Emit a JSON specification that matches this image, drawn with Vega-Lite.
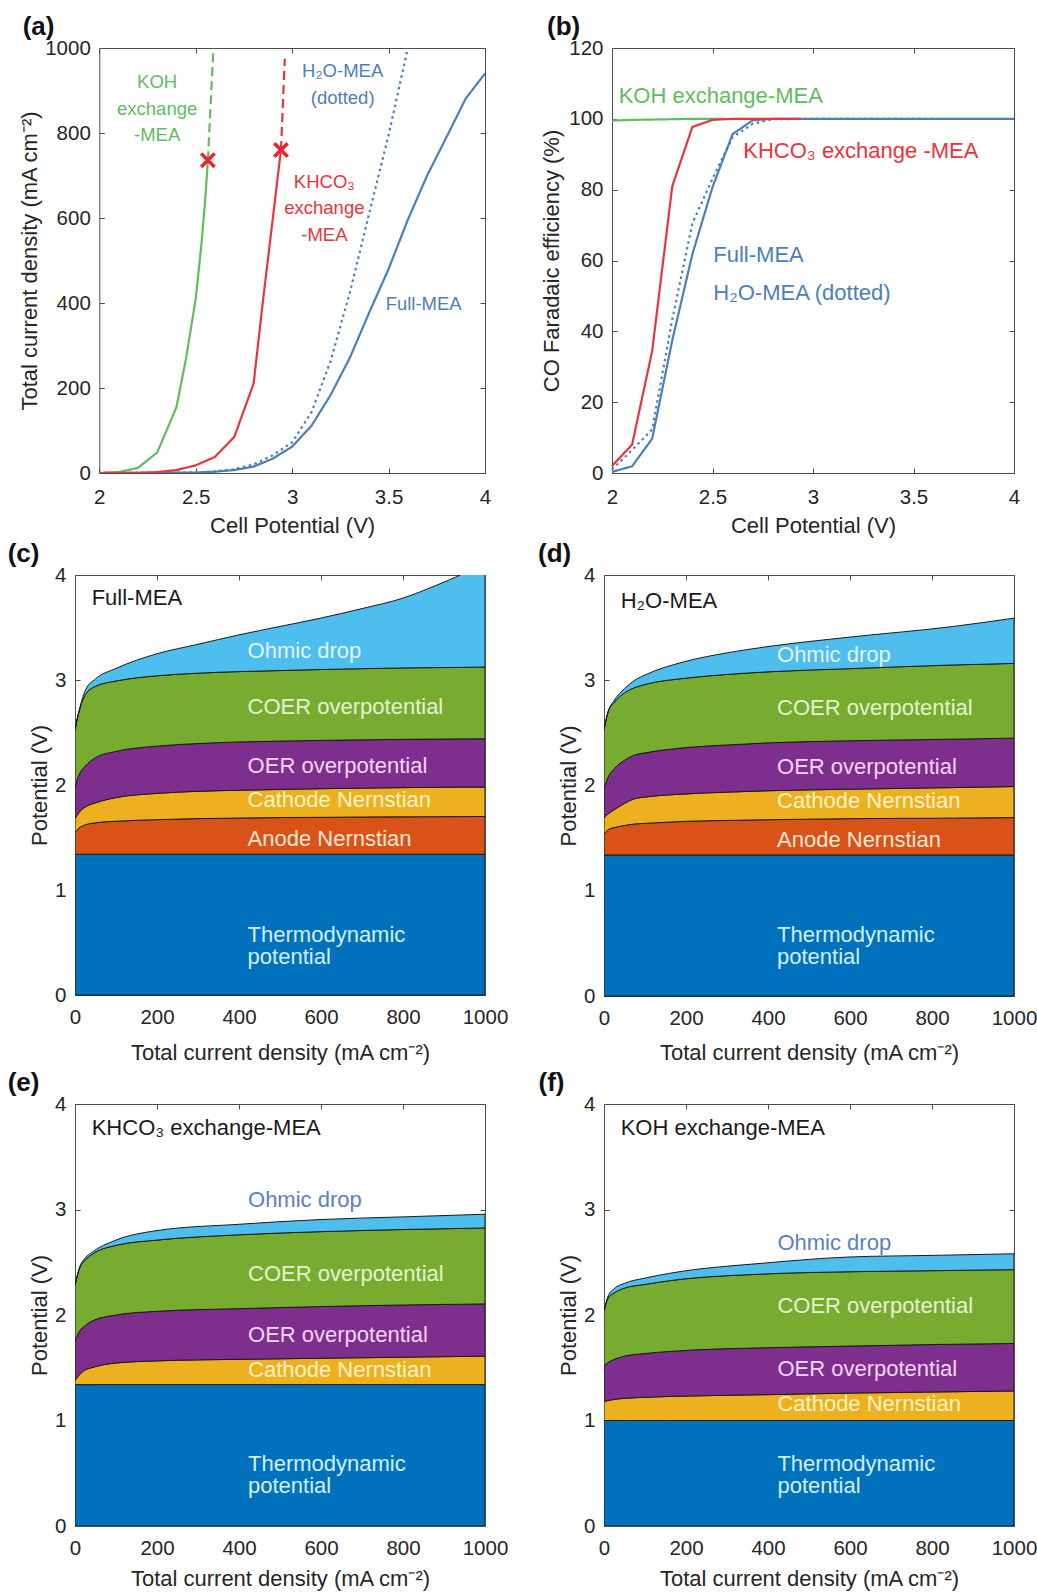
{
  "$schema": "https://vega.github.io/schema/vega-lite/v6.json",
  "background": "white",
  "padding": {"left": 7, "top": 14, "right": 4, "bottom": 4},
  "config": {
    "font": "Liberation Sans",
    "view": {"stroke": null},
    "axis": {
      "domainColor": "#4d4d4d", "domainWidth": 1, "tickColor": "#4d4d4d", "tickWidth": 1, "tickSize": -5,
      "grid": false, "labelFont": "Liberation Sans", "labelFontSize": 20.5, "labelColor": "#262626",
      "titleFont": "Liberation Sans", "titleFontSize": 22, "titleFontWeight": "normal", "titleColor": "#262626",
      "labelFlush": false, "labelOverlap": false, "zindex": 1
    },
    "title": {"fontSize": 26, "fontWeight": "bold", "anchor": "start", "frame": "group", "color": "#111111", "baseline": "alphabetic", "offset": -2, "font": "Liberation Sans"},
    "text": {"font": "Liberation Sans"}
  },
  "datasets": {
    "curveA": [
      {"s": "Full", "v": 2.0, "j": 0}, {"s": "Full", "v": 2.5, "j": 1}, {"s": "Full", "v": 2.6, "j": 3}, {"s": "Full", "v": 2.7, "j": 7},
      {"s": "Full", "v": 2.8, "j": 15}, {"s": "Full", "v": 2.9, "j": 34}, {"s": "Full", "v": 3.0, "j": 62}, {"s": "Full", "v": 3.1, "j": 111},
      {"s": "Full", "v": 3.2, "j": 184}, {"s": "Full", "v": 3.3, "j": 272}, {"s": "Full", "v": 3.4, "j": 378}, {"s": "Full", "v": 3.5, "j": 480},
      {"s": "Full", "v": 3.6, "j": 596}, {"s": "Full", "v": 3.7, "j": 700}, {"s": "Full", "v": 3.8, "j": 790}, {"s": "Full", "v": 3.9, "j": 881},
      {"s": "Full", "v": 4.0, "j": 940},
      {"s": "H2O", "v": 2.0, "j": 0}, {"s": "H2O", "v": 2.5, "j": 1}, {"s": "H2O", "v": 2.6, "j": 4}, {"s": "H2O", "v": 2.7, "j": 9},
      {"s": "H2O", "v": 2.8, "j": 20}, {"s": "H2O", "v": 2.9, "j": 42}, {"s": "H2O", "v": 3.0, "j": 72}, {"s": "H2O", "v": 3.1, "j": 143},
      {"s": "H2O", "v": 3.2, "j": 264}, {"s": "H2O", "v": 3.3, "j": 426}, {"s": "H2O", "v": 3.4, "j": 612}, {"s": "H2O", "v": 3.5, "j": 795},
      {"s": "H2O", "v": 3.6, "j": 1000},
      {"s": "KOH", "v": 2.0, "j": 0}, {"s": "KOH", "v": 2.1, "j": 2}, {"s": "KOH", "v": 2.2, "j": 12}, {"s": "KOH", "v": 2.3, "j": 48},
      {"s": "KOH", "v": 2.4, "j": 155}, {"s": "KOH", "v": 2.45, "j": 270}, {"s": "KOH", "v": 2.5, "j": 410}, {"s": "KOH", "v": 2.53, "j": 540},
      {"s": "KOH", "v": 2.548, "j": 636}, {"s": "KOH", "v": 2.563, "j": 736},
      {"s": "KOHd", "v": 2.563, "j": 736}, {"s": "KOHd", "v": 2.592, "j": 1000},
      {"s": "KHCO3", "v": 2.0, "j": 0}, {"s": "KHCO3", "v": 2.2, "j": 0.5}, {"s": "KHCO3", "v": 2.3, "j": 2}, {"s": "KHCO3", "v": 2.4, "j": 7},
      {"s": "KHCO3", "v": 2.5, "j": 18}, {"s": "KHCO3", "v": 2.6, "j": 38}, {"s": "KHCO3", "v": 2.7, "j": 85}, {"s": "KHCO3", "v": 2.8, "j": 210},
      {"s": "KHCO3", "v": 2.85, "j": 410}, {"s": "KHCO3", "v": 2.9, "j": 600}, {"s": "KHCO3", "v": 2.942, "j": 760},
      {"s": "KHCO3d", "v": 2.942, "j": 760}, {"s": "KHCO3d", "v": 2.962, "j": 975}
    ],
    "marksA": [{"v": 2.563, "j": 736}, {"v": 2.942, "j": 760}],
    "textA": [
      {"v": 2.30, "j": 919, "label": "KOH\nexchange\n-MEA", "s": "KOH"},
      {"v": 3.262, "j": 945, "label": "H₂O-MEA\n(dotted)", "s": "Full"},
      {"v": 3.167, "j": 685, "label": "KHCO₃\nexchange\n-MEA", "s": "KHCO3"},
      {"v": 3.682, "j": 398, "label": "Full-MEA", "s": "Full"}
    ],
    "curveB": [
      {"s": "Full", "v": 2.0, "fe": 0.3}, {"s": "Full", "v": 2.1, "fe": 1.9}, {"s": "Full", "v": 2.2, "fe": 9.7}, {"s": "Full", "v": 2.3, "fe": 37.5},
      {"s": "Full", "v": 2.4, "fe": 61.8}, {"s": "Full", "v": 2.5, "fe": 80.7}, {"s": "Full", "v": 2.6, "fe": 95.7}, {"s": "Full", "v": 2.7, "fe": 99.6},
      {"s": "Full", "v": 2.8, "fe": 100}, {"s": "Full", "v": 3.0, "fe": 100}, {"s": "Full", "v": 3.5, "fe": 100}, {"s": "Full", "v": 4.0, "fe": 100},
      {"s": "H2O", "v": 2.0, "fe": 1}, {"s": "H2O", "v": 2.1, "fe": 6.5}, {"s": "H2O", "v": 2.2, "fe": 12.3}, {"s": "H2O", "v": 2.3, "fe": 43.4},
      {"s": "H2O", "v": 2.4, "fe": 70.5}, {"s": "H2O", "v": 2.5, "fe": 83.1}, {"s": "H2O", "v": 2.6, "fe": 94.8}, {"s": "H2O", "v": 2.7, "fe": 98.6},
      {"s": "H2O", "v": 2.8, "fe": 99.9}, {"s": "H2O", "v": 3.0, "fe": 100}, {"s": "H2O", "v": 3.6, "fe": 100},
      {"s": "KOH", "v": 2.0, "fe": 99.5}, {"s": "KOH", "v": 2.1, "fe": 99.7}, {"s": "KOH", "v": 2.2, "fe": 99.8}, {"s": "KOH", "v": 2.3, "fe": 99.9},
      {"s": "KOH", "v": 2.4, "fe": 100}, {"s": "KOH", "v": 2.5, "fe": 100}, {"s": "KOH", "v": 2.56, "fe": 100},
      {"s": "KHCO3", "v": 2.0, "fe": 2}, {"s": "KHCO3", "v": 2.1, "fe": 8}, {"s": "KHCO3", "v": 2.2, "fe": 34.5}, {"s": "KHCO3", "v": 2.3, "fe": 81},
      {"s": "KHCO3", "v": 2.4, "fe": 97.7}, {"s": "KHCO3", "v": 2.5, "fe": 99.7}, {"s": "KHCO3", "v": 2.6, "fe": 100}, {"s": "KHCO3", "v": 2.8, "fe": 100},
      {"s": "KHCO3", "v": 2.94, "fe": 100}
    ],
    "textB": [
      {"v": 2.033, "fe": 106.4, "label": "KOH exchange-MEA", "s": "KOH"},
      {"v": 2.653, "fe": 91, "label": "KHCO₃ exchange -MEA", "s": "KHCO3"},
      {"v": 2.504, "fe": 61.6, "label": "Full-MEA", "s": "Full"},
      {"v": 2.504, "fe": 50.8, "label": "H₂O-MEA (dotted)", "s": "Full"}
    ],
    "stackC": [
      {"i": 0, "t": 1.34, "an": 1.55, "ca": 1.68, "oer": 1.97, "coer": 2.52, "ohm": 2.53},
      {"i": 5, "t": 1.34, "an": 1.57, "ca": 1.71, "oer": 2.05, "coer": 2.62, "ohm": 2.63},
      {"i": 10, "t": 1.34, "an": 1.59, "ca": 1.74, "oer": 2.10, "coer": 2.70, "ohm": 2.71},
      {"i": 25, "t": 1.34, "an": 1.62, "ca": 1.79, "oer": 2.18, "coer": 2.86, "ohm": 2.90},
      {"i": 50, "t": 1.34, "an": 1.64, "ca": 1.83, "oer": 2.26, "coer": 2.94, "ohm": 3.01},
      {"i": 100, "t": 1.34, "an": 1.655, "ca": 1.88, "oer": 2.32, "coer": 2.99, "ohm": 3.11},
      {"i": 200, "t": 1.34, "an": 1.67, "ca": 1.92, "oer": 2.37, "coer": 3.04, "ohm": 3.25},
      {"i": 300, "t": 1.34, "an": 1.68, "ca": 1.94, "oer": 2.395, "coer": 3.065, "ohm": 3.34},
      {"i": 400, "t": 1.34, "an": 1.685, "ca": 1.95, "oer": 2.41, "coer": 3.08, "ohm": 3.43},
      {"i": 500, "t": 1.34, "an": 1.69, "ca": 1.958, "oer": 2.418, "coer": 3.09, "ohm": 3.51},
      {"i": 600, "t": 1.34, "an": 1.692, "ca": 1.965, "oer": 2.425, "coer": 3.10, "ohm": 3.59},
      {"i": 700, "t": 1.34, "an": 1.695, "ca": 1.97, "oer": 2.43, "coer": 3.108, "ohm": 3.68},
      {"i": 800, "t": 1.34, "an": 1.697, "ca": 1.975, "oer": 2.435, "coer": 3.115, "ohm": 3.78},
      {"i": 880, "t": 1.34, "an": 1.698, "ca": 1.978, "oer": 2.437, "coer": 3.118, "ohm": 3.90},
      {"i": 940, "t": 1.34, "an": 1.699, "ca": 1.98, "oer": 2.439, "coer": 3.12, "ohm": 4.0},
      {"i": 1000, "t": 1.34, "an": 1.70, "ca": 1.98, "oer": 2.44, "coer": 3.124, "ohm": 4.12}
    ],
    "stackD": [
      {"i": 0, "t": 1.34, "an": 1.54, "ca": 1.69, "oer": 1.97, "coer": 2.53, "ohm": 2.53},
      {"i": 10, "t": 1.34, "an": 1.58, "ca": 1.73, "oer": 2.08, "coer": 2.70, "ohm": 2.70},
      {"i": 25, "t": 1.34, "an": 1.60, "ca": 1.77, "oer": 2.16, "coer": 2.79, "ohm": 2.81},
      {"i": 50, "t": 1.34, "an": 1.62, "ca": 1.83, "oer": 2.24, "coer": 2.88, "ohm": 2.92},
      {"i": 75, "t": 1.34, "an": 1.635, "ca": 1.875, "oer": 2.29, "coer": 2.93, "ohm": 3.00},
      {"i": 100, "t": 1.34, "an": 1.64, "ca": 1.89, "oer": 2.31, "coer": 2.96, "ohm": 3.05},
      {"i": 200, "t": 1.34, "an": 1.66, "ca": 1.92, "oer": 2.36, "coer": 3.02, "ohm": 3.18},
      {"i": 300, "t": 1.34, "an": 1.668, "ca": 1.937, "oer": 2.385, "coer": 3.055, "ohm": 3.26},
      {"i": 400, "t": 1.34, "an": 1.675, "ca": 1.95, "oer": 2.405, "coer": 3.08, "ohm": 3.32},
      {"i": 600, "t": 1.34, "an": 1.685, "ca": 1.965, "oer": 2.425, "coer": 3.11, "ohm": 3.41},
      {"i": 850, "t": 1.34, "an": 1.69, "ca": 1.98, "oer": 2.44, "coer": 3.145, "ohm": 3.51},
      {"i": 1000, "t": 1.34, "an": 1.695, "ca": 1.99, "oer": 2.45, "coer": 3.16, "ohm": 3.59}
    ],
    "stackE": [
      {"i": 0, "t": 1.34, "an": 1.34, "ca": 1.38, "oer": 1.75, "coer": 2.28, "ohm": 2.28},
      {"i": 10, "t": 1.34, "an": 1.34, "ca": 1.43, "oer": 1.84, "coer": 2.43, "ohm": 2.44},
      {"i": 25, "t": 1.34, "an": 1.34, "ca": 1.48, "oer": 1.90, "coer": 2.52, "ohm": 2.54},
      {"i": 40, "t": 1.34, "an": 1.34, "ca": 1.50, "oer": 1.94, "coer": 2.57, "ohm": 2.59},
      {"i": 100, "t": 1.34, "an": 1.34, "ca": 1.545, "oer": 2.00, "coer": 2.66, "ohm": 2.71},
      {"i": 200, "t": 1.34, "an": 1.34, "ca": 1.565, "oer": 2.035, "coer": 2.71, "ohm": 2.80},
      {"i": 400, "t": 1.34, "an": 1.34, "ca": 1.58, "oer": 2.06, "coer": 2.76, "ohm": 2.86},
      {"i": 600, "t": 1.34, "an": 1.34, "ca": 1.59, "oer": 2.08, "coer": 2.79, "ohm": 2.905},
      {"i": 800, "t": 1.34, "an": 1.34, "ca": 1.60, "oer": 2.095, "coer": 2.81, "ohm": 2.93},
      {"i": 1000, "t": 1.34, "an": 1.34, "ca": 1.61, "oer": 2.105, "coer": 2.825, "ohm": 2.955}
    ],
    "stackF": [
      {"i": 0, "t": 1.0, "an": 1.0, "ca": 1.18, "oer": 1.52, "coer": 2.04, "ohm": 2.04},
      {"i": 10, "t": 1.0, "an": 1.0, "ca": 1.19, "oer": 1.55, "coer": 2.16, "ohm": 2.18},
      {"i": 25, "t": 1.0, "an": 1.0, "ca": 1.20, "oer": 1.58, "coer": 2.21, "ohm": 2.25},
      {"i": 50, "t": 1.0, "an": 1.0, "ca": 1.21, "oer": 1.61, "coer": 2.255, "ohm": 2.30},
      {"i": 100, "t": 1.0, "an": 1.0, "ca": 1.22, "oer": 1.635, "coer": 2.29, "ohm": 2.35},
      {"i": 160, "t": 1.0, "an": 1.0, "ca": 1.228, "oer": 1.655, "coer": 2.325, "ohm": 2.395},
      {"i": 400, "t": 1.0, "an": 1.0, "ca": 1.245, "oer": 1.69, "coer": 2.39, "ohm": 2.495},
      {"i": 600, "t": 1.0, "an": 1.0, "ca": 1.26, "oer": 1.705, "coer": 2.41, "ohm": 2.55},
      {"i": 800, "t": 1.0, "an": 1.0, "ca": 1.27, "oer": 1.72, "coer": 2.42, "ohm": 2.565},
      {"i": 1000, "t": 1.0, "an": 1.0, "ca": 1.28, "oer": 1.73, "coer": 2.43, "ohm": 2.58}
    ],
    "labC": [
      {"x": 40.6, "y": 3.78, "label": "Full-MEA", "k": "title"},
      {"x": 421, "y": 3.28, "label": "Ohmic drop", "k": "ohm"},
      {"x": 421, "y": 2.74, "label": "COER overpotential", "k": "coer"},
      {"x": 421, "y": 2.18, "label": "OER overpotential", "k": "oer"},
      {"x": 421, "y": 1.855, "label": "Cathode Nernstian", "k": "ca"},
      {"x": 421, "y": 1.49, "label": "Anode Nernstian", "k": "an"},
      {"x": 421, "y": 0.574, "label": "Thermodynamic\npotential", "k": "t"}
    ],
    "labD": [
      {"x": 40.7, "y": 3.75, "label": "H₂O-MEA", "k": "title"},
      {"x": 422, "y": 3.24, "label": "Ohmic drop", "k": "ohm"},
      {"x": 422, "y": 2.74, "label": "COER overpotential", "k": "coer"},
      {"x": 422, "y": 2.18, "label": "OER overpotential", "k": "oer"},
      {"x": 422, "y": 1.85, "label": "Cathode Nernstian", "k": "ca"},
      {"x": 422, "y": 1.48, "label": "Anode Nernstian", "k": "an"},
      {"x": 422, "y": 0.577, "label": "Thermodynamic\npotential", "k": "t"}
    ],
    "labE": [
      {"x": 40.7, "y": 3.77, "label": "KHCO₃ exchange-MEA", "k": "title"},
      {"x": 422, "y": 3.09, "label": "Ohmic drop", "k": "ohm_out"},
      {"x": 422, "y": 2.39, "label": "COER overpotential", "k": "coer"},
      {"x": 422, "y": 1.81, "label": "OER overpotential", "k": "oer"},
      {"x": 422, "y": 1.48, "label": "Cathode Nernstian", "k": "ca"},
      {"x": 422, "y": 0.586, "label": "Thermodynamic\npotential", "k": "t"}
    ],
    "labF": [
      {"x": 40.7, "y": 3.77, "label": "KOH exchange-MEA", "k": "title"},
      {"x": 423, "y": 2.68, "label": "Ohmic drop", "k": "ohm_out"},
      {"x": 423, "y": 2.09, "label": "COER overpotential", "k": "coer"},
      {"x": 423, "y": 1.49, "label": "OER overpotential", "k": "oer"},
      {"x": 423, "y": 1.156, "label": "Cathode Nernstian", "k": "ca"},
      {"x": 423, "y": 0.586, "label": "Thermodynamic\npotential", "k": "t"}
    ]
  },
  "resolve": {
    "scale": {"x": "independent", "y": "independent", "color": "independent", "strokeDash": "independent"},
    "axis": {"x": "independent", "y": "independent"}
  },
  "columns": 2,
  "spacing": {"row": 102, "column": 119},
  "bounds": "flush",
  "concat": [
    {
      "width": 410, "height": 425,
      "title": {"text": "(a)", "dx": -52.3},
      "layer": [
        {
          "data": {"name": "curveA"},
          "mark": {"type": "line", "strokeWidth": 2.2, "clip": true},
          "encoding": {
            "x": {"field": "v", "type": "quantitative", "scale": {"domain": [2, 4], "range": [24.3, 410], "nice": false, "zero": false},
                  "axis": {"orient": "bottom", "values": [2, 2.5, 3, 3.5, 4], "format": "~f", "title": "Cell Potential (V)", "titleY": 52, "titleBaseline": "middle", "labelPadding": 19}},
            "y": {"field": "j", "type": "quantitative", "scale": {"domain": [0, 1000], "nice": false},
                  "axis": {"orient": "left", "offset": -24.3, "values": [0, 200, 400, 600, 800, 1000], "format": "~f", "title": "Total current density (mA cm⁻²)", "titleX": -70, "titleBaseline": "middle", "labelPadding": 14}},
            "color": {"field": "s", "type": "nominal", "legend": null,
                      "scale": {"domain": ["Full", "H2O", "KOH", "KOHd", "KHCO3", "KHCO3d"], "range": ["#4b7fb9", "#4b7fb9", "#63bb5f", "#63bb5f", "#e8353b", "#e8353b"]}},
            "strokeDash": {"field": "s", "type": "nominal", "legend": null,
                           "scale": {"domain": ["Full", "H2O", "KOH", "KOHd", "KHCO3", "KHCO3d"], "range": [[1, 0], [2.5, 3.5], [1, 0], [9, 5], [1, 0], [9, 5]]}}
          }
        },
        {
          "data": {"name": "marksA"},
          "mark": {"type": "point", "shape": "M-1,-1L1,1M-1,1L1,-1", "filled": false, "stroke": "#e8262e", "strokeWidth": 3.5, "size": 180, "opacity": 1},
          "encoding": {
            "x": {"field": "v", "type": "quantitative", "axis": {"orient": "top", "values": [2, 2.5, 3, 3.5, 4], "labels": false, "title": null}},
            "y": {"field": "j", "type": "quantitative", "axis": {"orient": "right", "values": [0, 200, 400, 600, 800, 1000], "labels": false, "title": null}}
          }
        },
        {
          "data": {"name": "textA"},
          "mark": {"type": "text", "fontSize": 18.5, "align": "center", "baseline": "middle", "lineBreak": "\n", "lineHeight": 26.5},
          "encoding": {
            "x": {"field": "v", "type": "quantitative", "axis": null},
            "y": {"field": "j", "type": "quantitative", "axis": null},
            "text": {"field": "label"},
            "color": {"field": "s", "type": "nominal", "legend": null}
          }
        }
      ],
      "resolve": {"axis": {"x": "independent", "y": "independent"}}
    },
    {
      "width": 410, "height": 425,
      "title": {"text": "(b)", "dx": -57},
      "layer": [
        {
          "data": {"name": "curveB"},
          "mark": {"type": "line", "strokeWidth": 2.2, "clip": true},
          "encoding": {
            "x": {"field": "v", "type": "quantitative", "scale": {"domain": [2, 4], "range": [8, 410], "nice": false, "zero": false},
                  "axis": {"orient": "bottom", "values": [2, 2.5, 3, 3.5, 4], "format": "~f", "title": "Cell Potential (V)", "titleY": 52, "titleBaseline": "middle", "labelPadding": 19}},
            "y": {"field": "fe", "type": "quantitative", "scale": {"domain": [0, 120], "nice": false},
                  "axis": {"orient": "left", "offset": -8, "values": [0, 20, 40, 60, 80, 100, 120], "format": "~f", "title": "CO Faradaic efficiency (%)", "titleX": -61, "titleBaseline": "middle", "labelPadding": 14}},
            "color": {"field": "s", "type": "nominal", "legend": null,
                      "scale": {"domain": ["Full", "H2O", "KOH", "KHCO3"], "range": ["#4b7fb9", "#4b7fb9", "#63bb5f", "#e8353b"]}},
            "strokeDash": {"field": "s", "type": "nominal", "legend": null,
                           "scale": {"domain": ["Full", "H2O", "KOH", "KHCO3"], "range": [[1, 0], [2.5, 3.5], [1, 0], [1, 0]]}}
          }
        },
        {
          "data": {"name": "textB"},
          "mark": {"type": "text", "fontSize": 22, "align": "left", "baseline": "middle"},
          "encoding": {
            "x": {"field": "v", "type": "quantitative", "axis": {"orient": "top", "values": [2, 2.5, 3, 3.5, 4], "labels": false, "title": null}},
            "y": {"field": "fe", "type": "quantitative", "axis": {"orient": "right", "values": [0, 20, 40, 60, 80, 100, 120], "labels": false, "title": null}},
            "text": {"field": "label"},
            "color": {"field": "s", "type": "nominal", "legend": null}
          }
        }
      ],
      "resolve": {"axis": {"x": "independent", "y": "independent"}}
    },
    {
      "width": 410, "height": 427,
      "title": {"text": "(c)", "dx": -67.3},
      "data": {"name": "stackC"},
      "layer": [
        {"mark": {"type": "area", "fill": "#0072BD", "stroke": "#1a1a1a", "strokeWidth": 1, "interpolate": "monotone", "clip": true},
         "encoding": {
           "x": {"field": "i", "type": "quantitative", "scale": {"domain": [0, 1000], "nice": false},
                 "axis": {"orient": "bottom", "offset": -7, "values": [0, 200, 400, 600, 800, 1000], "format": "~f", "title": "Total current density (mA cm⁻²)", "titleY": 57, "titleBaseline": "middle", "labelPadding": 17}},
           "y": {"field": "t", "type": "quantitative", "scale": {"domain": [0, 4], "range": [420, 0], "nice": false},
                 "axis": {"orient": "left", "values": [0, 1, 2, 3, 4], "format": "~f", "title": "Potential (V)", "titleX": -36, "titleBaseline": "middle", "labelPadding": 14}},
           "y2": {"datum": 0}}},
        {"mark": {"type": "area", "fill": "#D95319", "stroke": "#1a1a1a", "strokeWidth": 1, "interpolate": "monotone", "clip": true},
         "encoding": {
           "x": {"field": "i", "type": "quantitative", "axis": {"orient": "top", "values": [0, 200, 400, 600, 800, 1000], "labels": false, "title": null}},
           "y": {"field": "an", "type": "quantitative", "axis": {"orient": "right", "values": [0, 1, 2, 3, 4], "labels": false, "title": null}},
           "y2": {"field": "t"}}},
        {"mark": {"type": "area", "fill": "#EDB120", "stroke": "#1a1a1a", "strokeWidth": 1, "interpolate": "monotone", "clip": true},
         "encoding": {"x": {"field": "i", "type": "quantitative", "axis": null}, "y": {"field": "ca", "type": "quantitative", "axis": null}, "y2": {"field": "an"}}},
        {"mark": {"type": "area", "fill": "#7E2F8E", "stroke": "#1a1a1a", "strokeWidth": 1, "interpolate": "monotone", "clip": true},
         "encoding": {"x": {"field": "i", "type": "quantitative", "axis": null}, "y": {"field": "oer", "type": "quantitative", "axis": null}, "y2": {"field": "ca"}}},
        {"mark": {"type": "area", "fill": "#77AC30", "stroke": "#1a1a1a", "strokeWidth": 1, "interpolate": "monotone", "clip": true},
         "encoding": {"x": {"field": "i", "type": "quantitative", "axis": null}, "y": {"field": "coer", "type": "quantitative", "axis": null}, "y2": {"field": "oer"}}},
        {"mark": {"type": "area", "fill": "#4DBEEE", "stroke": "#1a1a1a", "strokeWidth": 1, "interpolate": "monotone", "clip": true},
         "encoding": {"x": {"field": "i", "type": "quantitative", "axis": null}, "y": {"field": "ohm", "type": "quantitative", "axis": null}, "y2": {"field": "coer"}}},
        {"data": {"name": "labC"},
         "mark": {"type": "text", "fontSize": 22, "align": "left", "baseline": "middle", "lineBreak": "\n", "lineHeight": 22},
         "encoding": {
           "x": {"field": "x", "type": "quantitative", "axis": null},
           "y": {"field": "y", "type": "quantitative", "axis": null},
           "text": {"field": "label"},
           "color": {"field": "k", "type": "nominal", "legend": null,
                     "scale": {"domain": ["title", "ohm", "ohm_out", "coer", "oer", "ca", "an", "t"], "range": ["#1a1a1a", "#e3f4fb", "#5b7fc4", "#e4f3cf", "#f6d5f7", "#fff3c6", "#ffe6d6", "#d3efff"]}}}}
      ],
      "resolve": {"axis": {"x": "independent", "y": "independent"}}
    },
    {
      "width": 410, "height": 427,
      "title": {"text": "(d)", "dx": -66},
      "data": {"name": "stackD"},
      "layer": [
        {"mark": {"type": "area", "fill": "#0072BD", "stroke": "#1a1a1a", "strokeWidth": 1, "interpolate": "monotone", "clip": true},
         "encoding": {
           "x": {"field": "i", "type": "quantitative", "scale": {"domain": [0, 1000], "nice": false},
                 "axis": {"orient": "bottom", "offset": -6, "values": [0, 200, 400, 600, 800, 1000], "format": "~f", "title": "Total current density (mA cm⁻²)", "titleY": 56, "titleBaseline": "middle", "labelPadding": 17}},
           "y": {"field": "t", "type": "quantitative", "scale": {"domain": [0, 4], "range": [421, 0], "nice": false},
                 "axis": {"orient": "left", "values": [0, 1, 2, 3, 4], "format": "~f", "title": "Potential (V)", "titleX": -36, "titleBaseline": "middle", "labelPadding": 14}},
           "y2": {"datum": 0}}},
        {"mark": {"type": "area", "fill": "#D95319", "stroke": "#1a1a1a", "strokeWidth": 1, "interpolate": "monotone", "clip": true},
         "encoding": {
           "x": {"field": "i", "type": "quantitative", "axis": {"orient": "top", "values": [0, 200, 400, 600, 800, 1000], "labels": false, "title": null}},
           "y": {"field": "an", "type": "quantitative", "axis": {"orient": "right", "values": [0, 1, 2, 3, 4], "labels": false, "title": null}},
           "y2": {"field": "t"}}},
        {"mark": {"type": "area", "fill": "#EDB120", "stroke": "#1a1a1a", "strokeWidth": 1, "interpolate": "monotone", "clip": true},
         "encoding": {"x": {"field": "i", "type": "quantitative", "axis": null}, "y": {"field": "ca", "type": "quantitative", "axis": null}, "y2": {"field": "an"}}},
        {"mark": {"type": "area", "fill": "#7E2F8E", "stroke": "#1a1a1a", "strokeWidth": 1, "interpolate": "monotone", "clip": true},
         "encoding": {"x": {"field": "i", "type": "quantitative", "axis": null}, "y": {"field": "oer", "type": "quantitative", "axis": null}, "y2": {"field": "ca"}}},
        {"mark": {"type": "area", "fill": "#77AC30", "stroke": "#1a1a1a", "strokeWidth": 1, "interpolate": "monotone", "clip": true},
         "encoding": {"x": {"field": "i", "type": "quantitative", "axis": null}, "y": {"field": "coer", "type": "quantitative", "axis": null}, "y2": {"field": "oer"}}},
        {"mark": {"type": "area", "fill": "#4DBEEE", "stroke": "#1a1a1a", "strokeWidth": 1, "interpolate": "monotone", "clip": true},
         "encoding": {"x": {"field": "i", "type": "quantitative", "axis": null}, "y": {"field": "ohm", "type": "quantitative", "axis": null}, "y2": {"field": "coer"}}},
        {"data": {"name": "labD"},
         "mark": {"type": "text", "fontSize": 22, "align": "left", "baseline": "middle", "lineBreak": "\n", "lineHeight": 22},
         "encoding": {
           "x": {"field": "x", "type": "quantitative", "axis": null},
           "y": {"field": "y", "type": "quantitative", "axis": null},
           "text": {"field": "label"},
           "color": {"field": "k", "type": "nominal", "legend": null,
                     "scale": {"domain": ["title", "ohm", "ohm_out", "coer", "oer", "ca", "an", "t"], "range": ["#1a1a1a", "#e3f4fb", "#5b7fc4", "#e4f3cf", "#f6d5f7", "#fff3c6", "#ffe6d6", "#d3efff"]}}}}
      ],
      "resolve": {"axis": {"x": "independent", "y": "independent"}}
    },
    {
      "width": 410, "height": 422,
      "title": {"text": "(e)", "dx": -67.3},
      "data": {"name": "stackE"},
      "layer": [
        {"mark": {"type": "area", "fill": "#0072BD", "stroke": "#1a1a1a", "strokeWidth": 1, "interpolate": "monotone", "clip": true},
         "encoding": {
           "x": {"field": "i", "type": "quantitative", "scale": {"domain": [0, 1000], "nice": false},
                 "axis": {"orient": "bottom", "values": [0, 200, 400, 600, 800, 1000], "format": "~f", "title": "Total current density (mA cm⁻²)", "titleY": 52, "titleBaseline": "middle", "labelPadding": 17}},
           "y": {"field": "t", "type": "quantitative", "scale": {"domain": [0, 4], "nice": false},
                 "axis": {"orient": "left", "values": [0, 1, 2, 3, 4], "format": "~f", "title": "Potential (V)", "titleX": -36, "titleBaseline": "middle", "labelPadding": 14}},
           "y2": {"datum": 0}}},
        {"mark": {"type": "area", "fill": "#EDB120", "stroke": "#1a1a1a", "strokeWidth": 1, "interpolate": "monotone", "clip": true},
         "encoding": {
           "x": {"field": "i", "type": "quantitative", "axis": {"orient": "top", "values": [0, 200, 400, 600, 800, 1000], "labels": false, "title": null}},
           "y": {"field": "ca", "type": "quantitative", "axis": {"orient": "right", "values": [0, 1, 2, 3, 4], "labels": false, "title": null}},
           "y2": {"field": "an"}}},
        {"mark": {"type": "area", "fill": "#7E2F8E", "stroke": "#1a1a1a", "strokeWidth": 1, "interpolate": "monotone", "clip": true},
         "encoding": {"x": {"field": "i", "type": "quantitative", "axis": null}, "y": {"field": "oer", "type": "quantitative", "axis": null}, "y2": {"field": "ca"}}},
        {"mark": {"type": "area", "fill": "#77AC30", "stroke": "#1a1a1a", "strokeWidth": 1, "interpolate": "monotone", "clip": true},
         "encoding": {"x": {"field": "i", "type": "quantitative", "axis": null}, "y": {"field": "coer", "type": "quantitative", "axis": null}, "y2": {"field": "oer"}}},
        {"mark": {"type": "area", "fill": "#4DBEEE", "stroke": "#1a1a1a", "strokeWidth": 1, "interpolate": "monotone", "clip": true},
         "encoding": {"x": {"field": "i", "type": "quantitative", "axis": null}, "y": {"field": "ohm", "type": "quantitative", "axis": null}, "y2": {"field": "coer"}}},
        {"data": {"name": "labE"},
         "mark": {"type": "text", "fontSize": 22, "align": "left", "baseline": "middle", "lineBreak": "\n", "lineHeight": 22},
         "encoding": {
           "x": {"field": "x", "type": "quantitative", "axis": null},
           "y": {"field": "y", "type": "quantitative", "axis": null},
           "text": {"field": "label"},
           "color": {"field": "k", "type": "nominal", "legend": null,
                     "scale": {"domain": ["title", "ohm", "ohm_out", "coer", "oer", "ca", "an", "t"], "range": ["#1a1a1a", "#e3f4fb", "#5b7fc4", "#e4f3cf", "#f6d5f7", "#fff3c6", "#ffe6d6", "#d3efff"]}}}}
      ],
      "resolve": {"axis": {"x": "independent", "y": "independent"}}
    },
    {
      "width": 410, "height": 422,
      "title": {"text": "(f)", "dx": -65.5},
      "data": {"name": "stackF"},
      "layer": [
        {"mark": {"type": "area", "fill": "#0072BD", "stroke": "#1a1a1a", "strokeWidth": 1, "interpolate": "monotone", "clip": true},
         "encoding": {
           "x": {"field": "i", "type": "quantitative", "scale": {"domain": [0, 1000], "nice": false},
                 "axis": {"orient": "bottom", "values": [0, 200, 400, 600, 800, 1000], "format": "~f", "title": "Total current density (mA cm⁻²)", "titleY": 52, "titleBaseline": "middle", "labelPadding": 17}},
           "y": {"field": "t", "type": "quantitative", "scale": {"domain": [0, 4], "nice": false},
                 "axis": {"orient": "left", "values": [0, 1, 2, 3, 4], "format": "~f", "title": "Potential (V)", "titleX": -36, "titleBaseline": "middle", "labelPadding": 14}},
           "y2": {"datum": 0}}},
        {"mark": {"type": "area", "fill": "#EDB120", "stroke": "#1a1a1a", "strokeWidth": 1, "interpolate": "monotone", "clip": true},
         "encoding": {
           "x": {"field": "i", "type": "quantitative", "axis": {"orient": "top", "values": [0, 200, 400, 600, 800, 1000], "labels": false, "title": null}},
           "y": {"field": "ca", "type": "quantitative", "axis": {"orient": "right", "values": [0, 1, 2, 3, 4], "labels": false, "title": null}},
           "y2": {"field": "an"}}},
        {"mark": {"type": "area", "fill": "#7E2F8E", "stroke": "#1a1a1a", "strokeWidth": 1, "interpolate": "monotone", "clip": true},
         "encoding": {"x": {"field": "i", "type": "quantitative", "axis": null}, "y": {"field": "oer", "type": "quantitative", "axis": null}, "y2": {"field": "ca"}}},
        {"mark": {"type": "area", "fill": "#77AC30", "stroke": "#1a1a1a", "strokeWidth": 1, "interpolate": "monotone", "clip": true},
         "encoding": {"x": {"field": "i", "type": "quantitative", "axis": null}, "y": {"field": "coer", "type": "quantitative", "axis": null}, "y2": {"field": "oer"}}},
        {"mark": {"type": "area", "fill": "#4DBEEE", "stroke": "#1a1a1a", "strokeWidth": 1, "interpolate": "monotone", "clip": true},
         "encoding": {"x": {"field": "i", "type": "quantitative", "axis": null}, "y": {"field": "ohm", "type": "quantitative", "axis": null}, "y2": {"field": "coer"}}},
        {"data": {"name": "labF"},
         "mark": {"type": "text", "fontSize": 22, "align": "left", "baseline": "middle", "lineBreak": "\n", "lineHeight": 22},
         "encoding": {
           "x": {"field": "x", "type": "quantitative", "axis": null},
           "y": {"field": "y", "type": "quantitative", "axis": null},
           "text": {"field": "label"},
           "color": {"field": "k", "type": "nominal", "legend": null,
                     "scale": {"domain": ["title", "ohm", "ohm_out", "coer", "oer", "ca", "an", "t"], "range": ["#1a1a1a", "#e3f4fb", "#5b7fc4", "#e4f3cf", "#f6d5f7", "#fff3c6", "#ffe6d6", "#d3efff"]}}}}
      ],
      "resolve": {"axis": {"x": "independent", "y": "independent"}}
    }
  ]
}
